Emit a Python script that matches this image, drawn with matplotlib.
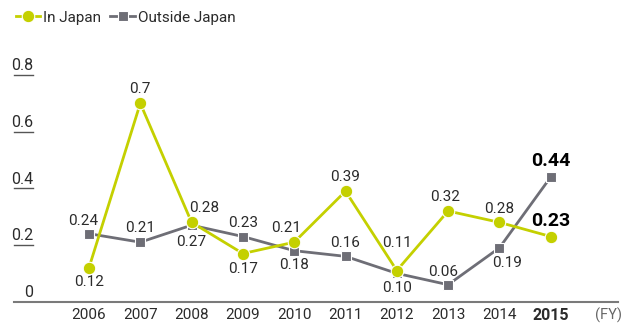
import numpy as np
import matplotlib
matplotlib.use('Agg')
import matplotlib.pyplot as plt

plt.rcParams['font.family'] = ['Roboto', 'DejaVu Sans']
#
years = ['2006', '2007', '2008', '2009', '2010', '2011', '2012', '2013', '2014', '2015']
in_japan = [0.12, 0.70, 0.28, 0.17, 0.21, 0.39, 0.11, 0.32, 0.28, 0.23]
outside_japan = [0.24, 0.21, 0.27, 0.23, 0.18, 0.16, 0.10, 0.06, 0.19, 0.44]
in_japan_txt = ['0.12', '0.7', '0.28', '0.17', '0.21', '0.39', '0.11', '0.32', '0.28', '0.23']
outside_txt = ['0.24', '0.21', '0.27', '0.23', '0.18', '0.16', '0.10', '0.06', '0.19', '0.44']
y_ticks = [0.2, 0.4, 0.6, 0.8]
y_tick_labels = ['0.2', '0.4', '0.6', '0.8']
#
green = '#c4d000'
gray = '#6e6e76'
txt = '#2b2b2b'

W, H = 632, 324
fig = plt.figure(figsize=(W / 100, H / 100), dpi=100)
# axes placed in pixels: left 14, right 618, baseline 301.7, 0.8 line at 75
ax = fig.add_axes([14 / W, 1 - 301.7 / H, (618 - 14) / W, (301.7 - 75) / H])
x0, dx = 89, 51.3
py = (301.7 - 75) / 0.8   # pixels per unit
ax.set_xlim((14 - x0) / dx, (618 - x0) / dx)
ax.set_ylim(0, 0.8)
ax.axis('off')

x = np.arange(len(years))
ax.plot(x, outside_japan, color=gray, lw=2, marker='s', ms=7.5, mfc=gray,
        mec='white', mew=0.8, label='Outside Japan', zorder=3, clip_on=False)
ax.plot(x, in_japan, color=green, lw=2, marker='o', ms=9, mfc=green,
        mec='white', mew=0.8, label='In Japan', zorder=4, clip_on=False)

# baseline
ax.plot([(14 - x0) / dx, (618 - x0) / dx], [0, 0], color='#7a7a7a', lw=1.5, clip_on=False)
# y labels with short underline
xl, xr = (14 - x0) / dx, (33 - x0) / dx
for v, lab in zip(y_ticks, y_tick_labels):
    ax.plot([xl, xr], [v, v], color='#555555', lw=1, clip_on=False)
    ax.text(xr, v + 0.006, lab, ha='right', va='bottom', fontsize=11.5, color=txt)
ax.text(xr, 0.006, '0', ha='right', va='bottom', fontsize=11.5, color=txt)

# x labels
for i, yr in enumerate(years):
    last = i == len(years) - 1
    ax.text(i, -13.5 / py, yr, ha='center', va='center', color=txt,
            fontsize=11.5 if last else 11, fontweight='bold' if last else 'normal')
ax.text((608 - x0) / dx, -13.5 / py, '(FY)', ha='center', va='center', fontsize=10.5, color='#666666')

# label offsets from the point, in pixels (x right, y up)
jp_off = [(0, -14), (0, 14), (13, 14), (0, -15), (-8, 14), (0, 14), (0, 28), (-3, 14), (0, 13), (0, 16)]
out_off = [(-6, 13), (0, 14), (0, -17), (0, 14), (0, -14), (0, 13), (0, -15), (-5, 13), (8, -15), (0, 16)]

for i in range(len(years)):
    last = i == len(years) - 1
    for v, s, off in ((in_japan[i], in_japan_txt[i], jp_off[i]),
                      (outside_japan[i], outside_txt[i], out_off[i])):
        ax.text(i + off[0] / dx, v + off[1] / py, s, ha='center', va='center',
                color='black' if last else txt, fontsize=14 if last else 11,
                fontweight='bold' if last else 'normal')

handles, labels = ax.get_legend_handles_labels()
fig.legend(handles[::-1], labels[::-1], loc='upper left', bbox_to_anchor=(0.008, 1.0),
           ncol=2, frameon=False, fontsize=11, handlelength=1.6, handletextpad=0.2,
           columnspacing=0.6, borderaxespad=0.3, labelcolor=txt)

fig.savefig('out.png', dpi=100)
